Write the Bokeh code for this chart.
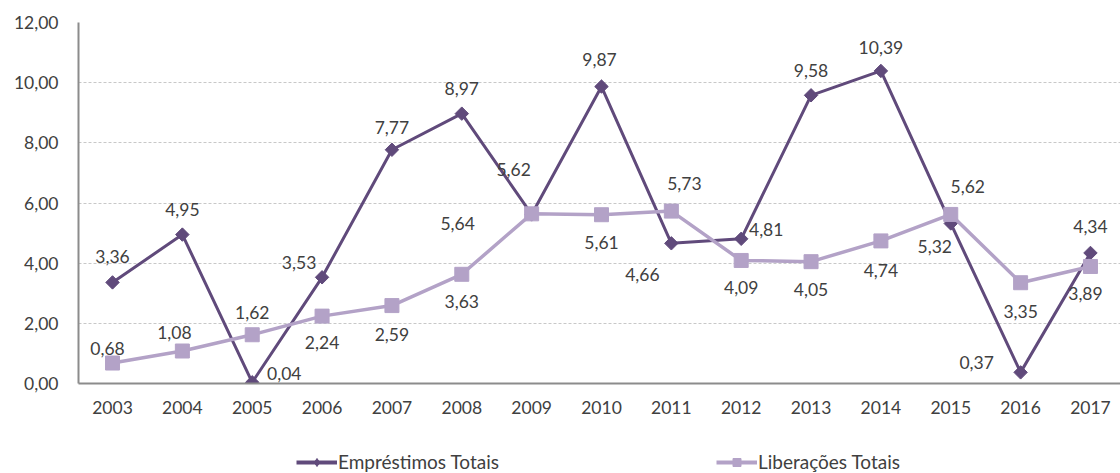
import math
from bokeh.plotting import figure
from bokeh.layouts import column
from bokeh.models import (ColumnDataSource, Range1d, FixedTicker, Legend, LegendItem)
from bokeh.embed import file_html
from bokeh.resources import INLINE

# ---- data ----
years = [2003, 2004, 2005, 2006, 2007, 2008, 2009, 2010, 2011, 2012, 2013, 2014, 2015, 2016, 2017]
emprestimos = [3.36, 4.95, 0.04, 3.53, 7.77, 8.97, 5.62, 9.87, 4.66, 4.81, 9.58, 10.39, 5.32, 0.37, 4.34]
liberacoes = [0.68, 1.08, 1.62, 2.24, 2.59, 3.63, 5.64, 5.61, 5.73, 4.09, 4.05, 4.74, 5.62, 3.35, 3.89]
y_ticks = [0, 2, 4, 6, 8, 10, 12]
series_names = ["Empréstimos Totais", "Liberações Totais"]

# ---- label placement (styling, screen px) ----
emp_dx = [0, 0, 32, -23, 0, 0, -18, -2, -29, 25, 0, 0, -16, -44, 0]
emp_dy = [-26, -25, -9, -15, -22, -25, -45, -27, 31, -9, -25, -23, 23, -10, -26]
lib_dx = [-5, -8, 0, 0, 0, 0, -74, 0, 13, 0, 0, 0, 17, 0, -5]
lib_dy = [-15, -19, -22, 26, 29, 27, 10, 28, -28, 27, 28, 30, -28, 29, 27]

def fmt(v):
    return f"{v:.2f}".replace(".", ",")

EMP_COLOR = "#604A7B"
LIB_COLOR = "#B3A2C7"
TEXT_COLOR = "#404040"
FONT = "Lato"
FS = "17.5px"
DIAMOND_ANGLE = math.pi / 4

emp_src = ColumnDataSource(dict(x=years, y=emprestimos, t=[fmt(v) for v in emprestimos],
                                dx=emp_dx, dy=emp_dy))
lib_src = ColumnDataSource(dict(x=years, y=liberacoes, t=[fmt(v) for v in liberacoes],
                                dx=lib_dx, dy=lib_dy))

p = figure(width=1120, height=420, output_backend="svg", toolbar_location=None,
           x_range=Range1d(2002.513, 2017.43), y_range=Range1d(0, 12),
           min_border_left=78, min_border_right=0, min_border_top=22, min_border_bottom=37)
p.outline_line_color = None
p.background_fill_color = "white"
p.border_fill_color = "white"

# grid
p.xgrid.grid_line_color = None
p.ygrid.grid_line_color = "#C8C8C8"
p.ygrid.grid_line_dash = "3 2"
p.ygrid.grid_line_width = 1.2
p.ygrid.ticker = FixedTicker(ticks=y_ticks)

# axes
p.yaxis.ticker = FixedTicker(ticks=y_ticks)
p.yaxis.major_label_overrides = {t: fmt(t) for t in y_ticks}
p.xaxis.ticker = FixedTicker(ticks=years)
p.xaxis.major_label_overrides = {y: str(y) for y in years}
for ax in (p.xaxis, p.yaxis):
    ax.axis_line_color = "#8C8C8C"
    ax.axis_line_width = 2
    ax.major_tick_line_color = None
    ax.minor_tick_line_color = None
    ax.major_tick_out = 0
    ax.major_tick_in = 0
    ax.major_label_text_font = FONT
    ax.major_label_text_font_size = FS
    ax.major_label_text_color = TEXT_COLOR
p.yaxis.major_label_standoff = 20
p.xaxis.major_label_standoff = 17

# series
p.line("x", "y", source=emp_src, line_color=EMP_COLOR, line_width=3)
p.scatter("x", "y", source=emp_src, marker="square", angle=DIAMOND_ANGLE, size=9.5,
          fill_color=EMP_COLOR, line_color=EMP_COLOR)
p.line("x", "y", source=lib_src, line_color=LIB_COLOR, line_width=3.5)
p.scatter("x", "y", source=lib_src, marker="square", size=14,
          fill_color=LIB_COLOR, line_color=LIB_COLOR)

# data labels
for src in (emp_src, lib_src):
    p.text("x", "y", text="t", source=src, x_offset="dx", y_offset="dy",
           text_align="center", text_baseline="middle",
           text_font_size=FS, text_color=TEXT_COLOR, text_font={"value": FONT})

# ---- legend strip below the chart (same series, drawn outside its visible range) ----
q = figure(width=1120, height=53, output_backend="svg", toolbar_location=None,
           x_range=Range1d(0, 1), y_range=Range1d(0, 1),
           x_axis_type=None, y_axis_type=None,
           min_border_left=78, min_border_right=0, min_border_top=0, min_border_bottom=0)
q.outline_line_color = None
q.xgrid.grid_line_color = None
q.ygrid.grid_line_color = None
el = q.line("x", "y", source=emp_src, line_color=EMP_COLOR, line_width=4)
em = q.scatter("x", "y", source=emp_src, marker="diamond", size=11,
               fill_color=EMP_COLOR, line_color=EMP_COLOR)
ll = q.line("x", "y", source=lib_src, line_color=LIB_COLOR, line_width=4)
lm = q.scatter("x", "y", source=lib_src, marker="square", size=10,
               fill_color=LIB_COLOR, line_color=LIB_COLOR)
legend = Legend(items=[LegendItem(label=series_names[0], renderers=[el, em]),
                       LegendItem(label=series_names[1], renderers=[ll, lm])],
                orientation="horizontal", location=(218, 0),
                glyph_width=41, glyph_height=20, label_standoff=1, spacing=217,
                padding=0, margin=0, border_line_color=None, background_fill_alpha=0,
                label_text_font=FONT, label_text_font_size="19px", label_text_color=TEXT_COLOR)
q.add_layout(legend, "center")

open("out.html", "w").write(file_html(column(p, q, spacing=0), INLINE))
